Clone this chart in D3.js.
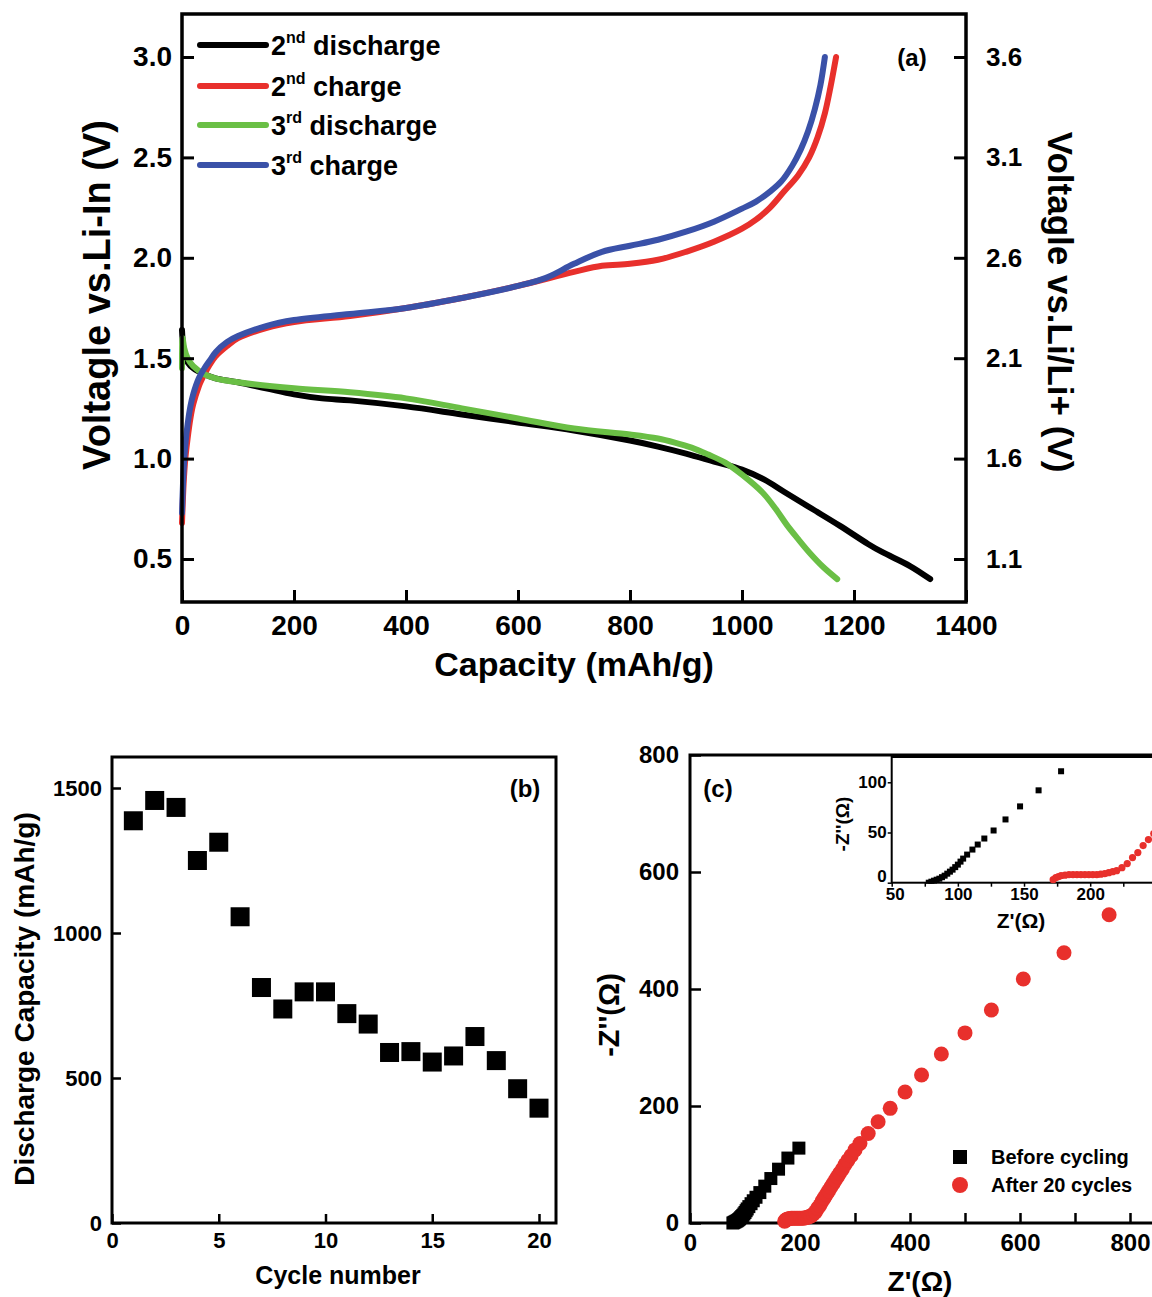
<!DOCTYPE html>
<html lang="en">
<head>
    <meta charset="UTF-8">
    <script src="https://d3js.org/d3.v7.min.js" charset="utf-8"></script>
    <title>Battery cycling figure</title>
    <style>
        body { margin: 0; background: #fff; }
        svg { display: block; font-family: "Liberation Sans", Arial, sans-serif; }
        .axis path { display: none; }
        .axis line { stroke: #000; }
        .axis text { fill: #000; font-weight: bold; }
    </style>
</head>
<body>
<div id="chart"></div>
<script>
    // (a) charge / discharge curves, capacity (mAh/g) vs voltage (V vs Li-In)
    const dis2Cap = [0, 2, 5, 10, 20, 40, 60, 100, 150, 200, 250, 300, 400, 500, 600, 700, 800, 850, 900, 950, 1000, 1040, 1075, 1125, 1175, 1225, 1250, 1300, 1336];
    const dis2Volt = [1.64, 1.56, 1.51, 1.48, 1.45, 1.42, 1.40, 1.38, 1.35, 1.32, 1.30, 1.29, 1.26, 1.22, 1.18, 1.14, 1.09, 1.06, 1.025, 0.985, 0.945, 0.895, 0.835, 0.75, 0.665, 0.575, 0.535, 0.465, 0.40];
    const chg2Cap = [0, 3, 6, 10, 15, 20, 30, 40, 50, 60, 80, 100, 150, 200, 300, 400, 500, 600, 700, 750, 800, 850, 900, 950, 1000, 1025, 1050, 1075, 1100, 1120, 1135, 1148, 1158, 1168];
    const chg2Volt = [0.68, 0.88, 1.0, 1.1, 1.2, 1.27, 1.36, 1.42, 1.47, 1.51, 1.56, 1.60, 1.65, 1.68, 1.71, 1.75, 1.80, 1.86, 1.93, 1.96, 1.97, 1.99, 2.03, 2.08, 2.145, 2.19, 2.25, 2.33, 2.41, 2.50, 2.60, 2.72, 2.85, 3.0];
    const dis3Cap = [0, 1, 4, 10, 20, 40, 60, 100, 200, 300, 400, 500, 600, 700, 800, 850, 880, 910, 940, 970, 1000, 1037, 1060, 1080, 1100, 1121, 1145, 1170];
    const dis3Volt = [1.45, 1.60, 1.55, 1.50, 1.46, 1.42, 1.40, 1.38, 1.35, 1.33, 1.30, 1.25, 1.20, 1.15, 1.12, 1.10, 1.08, 1.055, 1.02, 0.98, 0.92, 0.83, 0.75, 0.67, 0.60, 0.53, 0.46, 0.40];
    const chg3Cap = [0, 3, 6, 10, 15, 20, 30, 40, 50, 60, 80, 100, 150, 200, 300, 400, 500, 600, 650, 700, 750, 800, 850, 900, 950, 1000, 1025, 1050, 1070, 1090, 1105, 1118, 1130, 1140, 1148];
    const chg3Volt = [0.73, 0.95, 1.07, 1.17, 1.26, 1.32, 1.40, 1.45, 1.49, 1.53, 1.58, 1.61, 1.66, 1.69, 1.72, 1.75, 1.80, 1.86, 1.90, 1.97, 2.03, 2.06, 2.09, 2.13, 2.18, 2.245, 2.28, 2.33, 2.38, 2.46, 2.54, 2.63, 2.74, 2.86, 3.0];
    const curveNames = ["2nd discharge", "2nd charge", "3rd discharge", "3rd charge"];
    const curveColors = ["#000000", "#e8302c", "#6abf45", "#3a51a8"];
    const capTicks = [0, 200, 400, 600, 800, 1000, 1200, 1400];
    const voltTicks = [0.5, 1.0, 1.5, 2.0, 2.5, 3.0];
    const voltRightTicks = [1.1, 1.6, 2.1, 2.6, 3.1, 3.6];

    // (b) discharge capacity per cycle
    const cycles = [1, 2, 3, 4, 5, 6, 7, 8, 9, 10, 11, 12, 13, 14, 15, 16, 17, 18, 19, 20];
    const dischargeCap = [1387, 1457, 1433, 1250, 1313, 1056, 812, 738, 797, 797, 722, 686, 588, 591, 555, 576, 643, 560, 463, 396];
    const cycleTicks = [0, 5, 10, 15, 20];
    const dcapTicks = [0, 500, 1000, 1500];

    // (c) impedance spectra
    const beforeRe = [78, 80, 82, 84, 86, 88, 90, 92, 94, 96, 98, 100, 102, 104, 107, 111, 115, 120, 127, 136, 147, 161, 178, 198];
    const beforeIm = [0, 1, 2, 3, 4, 5.5, 7, 9, 11, 13, 15.5, 18, 21, 24, 28, 33, 38, 44, 52, 63, 76, 92, 111, 128];
    const afterRe = [172, 174, 176, 178, 181, 184, 187, 190, 193, 196, 199, 202, 205, 208, 211, 214, 217, 220, 224, 228, 232, 236, 240, 244, 248, 252, 256, 260, 264, 268, 272, 277, 282, 287, 293, 300, 309, 324, 342, 364, 391, 421, 457, 500, 548, 606, 680, 762];
    const afterIm = [3, 5, 6, 7, 7.5, 8, 8, 8, 8, 8, 8, 8, 8, 8.5, 9, 10, 11, 12, 15, 19, 25, 30, 37, 43, 49, 55, 61, 67, 73, 79, 85, 92, 100, 107, 115, 125, 136, 153, 173, 196, 224, 253, 289, 325, 364, 417, 462, 527];
    const zTicks = [0, 100, 200, 300, 400, 500, 600, 700, 800];
    const zImTicks = [0, 200, 400, 600, 800];
    const insetXTicks = [50, 75, 100, 125, 150, 175, 200, 225, 250];
    const insetYTicks = [0, 50, 100];
    const impedanceNames = ["Before cycling", "After 20 cycles"];

    const svgWidth = 1152;
    const svgHeight = 1297;

    const svg = d3.select("#chart").append("svg")
        .attr("width", svgWidth)
        .attr("height", svgHeight);
    svg.append("rect").attr("width", svgWidth).attr("height", svgHeight).attr("fill", "#fff");

    const styleAxis = (g, size) => {
        g.attr("class", "axis");
        g.selectAll("text").style("font-size", size + "px");
    };

    // ---------- panel (a) ----------
    const drawPanelA = () => {
        const left = 182, right = 966, top = 14, bottom = 602;
        const x = d3.scaleLinear().domain([0, 1400]).range([left, right]);
        const y = d3.scaleLinear().domain([0.5, 3.0]).range([559, 57]);
        const yR = d3.scaleLinear().domain([1.1, 3.6]).range([559, 57]);

        const g = svg.append("g");

        const series = [
            [dis2Cap, dis2Volt],
            [chg2Cap, chg2Volt],
            [dis3Cap, dis3Volt],
            [chg3Cap, chg3Volt]
        ];
        const line = d3.line()
            .x(d => x(d[0]))
            .y(d => y(d[1]))
            .curve(d3.curveCatmullRom.alpha(0.5));

        series.forEach((s, i) => {
            const pts = s[0].map((c, j) => [c, s[1][j]]);
            g.append("path")
                .attr("d", line(pts))
                .attr("fill", "none")
                .attr("stroke", curveColors[i])
                .attr("stroke-width", 6)
                .attr("stroke-linecap", "round")
                .attr("stroke-linejoin", "round");
        });

        g.append("rect")
            .attr("x", left).attr("y", top)
            .attr("width", right - left).attr("height", bottom - top)
            .attr("fill", "none").attr("stroke", "#000").attr("stroke-width", 3.5);

        const xAxis = g.append("g")
            .attr("transform", `translate(0,${bottom})`)
            .call(d3.axisBottom(x).tickValues(capTicks).tickFormat(d3.format("d"))
                .tickSize(-12).tickSizeOuter(0).tickPadding(13));
        styleAxis(xAxis, 28);
        xAxis.selectAll("line").attr("stroke-width", 3);

        const yAxis = g.append("g")
            .attr("transform", `translate(${left},0)`)
            .call(d3.axisLeft(y).tickValues(voltTicks).tickFormat(d3.format(".1f")).tickSize(-12).tickSizeOuter(0).tickPadding(10));
        styleAxis(yAxis, 28);
        yAxis.selectAll("line").attr("stroke-width", 3);

        const yAxisR = g.append("g")
            .attr("transform", `translate(${right},0)`)
            .call(d3.axisRight(yR).tickValues(voltRightTicks).tickFormat(d3.format(".1f")).tickSize(-12).tickSizeOuter(0).tickPadding(20));
        styleAxis(yAxisR, 26);
        yAxisR.selectAll("line").attr("stroke-width", 3);

        g.append("text")
            .attr("x", (left + right) / 2). attr("y", 676)
            .attr("text-anchor", "middle")
            .style("font-size", "34px").style("font-weight", "bold")
            .text("Capacity (mAh/g)");

        g.append("text")
            .attr("transform", `translate(110,295) rotate(-90)`)
            .attr("text-anchor", "middle")
            .style("font-size", "38px").style("font-weight", "bold")
            .text("Voltagle vs.Li-In (V)");

        g.append("text")
            .attr("transform", `translate(1048,302) rotate(90)`)
            .attr("text-anchor", "middle")
            .style("font-size", "35px").style("font-weight", "bold")
            .text("Voltagle vs.Li/Li+ (V)");

        g.append("text")
            .attr("x", 912).attr("y", 66)
            .attr("text-anchor", "middle")
            .style("font-size", "24px").style("font-weight", "bold")
            .text("(a)");

        // legend
        const legendY = [45, 86, 125, 165];
        curveNames.forEach((name, i) => {
            const ly = legendY[i];
            g.append("line")
                .attr("x1", 200).attr("x2", 266)
                .attr("y1", ly).attr("y2", ly)
                .attr("stroke", curveColors[i])
                .attr("stroke-width", 6)
                .attr("stroke-linecap", "round");
            const parts = name.match(/^(\d)(\w+) (.+)$/);
            const t = g.append("text")
                .attr("x", 271).attr("y", ly + 10)
                .style("font-size", "27px").style("font-weight", "bold");
            t.append("tspan").text(parts[1]);
            t.append("tspan").attr("dy", -12).style("font-size", "16px").text(parts[2]);
            t.append("tspan").attr("dy", 12).text(" " + parts[3]);
        });
    };

    // ---------- panel (b) ----------
    const drawPanelB = () => {
        const left = 112, right = 556, top = 757, bottom = 1223;
        const x = d3.scaleLinear().domain([0, 20]).range([left, 539]);
        const y = d3.scaleLinear().domain([0, 1500]).range([bottom, 788]);

        const g = svg.append("g");

        g.append("rect")
            .attr("x", left).attr("y", top)
            .attr("width", right - left).attr("height", bottom - top)
            .attr("fill", "none").attr("stroke", "#000").attr("stroke-width", 3);

        const xAxis = g.append("g")
            .attr("transform", `translate(0,${bottom})`)
            .call(d3.axisBottom(x).tickValues(cycleTicks).tickFormat(d3.format("d"))
                .tickSize(-9).tickSizeOuter(0).tickPadding(9));
        styleAxis(xAxis, 22);
        xAxis.selectAll("line").attr("stroke-width", 2.5);

        const yAxis = g.append("g")
            .attr("transform", `translate(${left},0)`)
            .call(d3.axisLeft(y).tickValues(dcapTicks).tickFormat(d3.format("d"))
                .tickSize(-9).tickSizeOuter(0).tickPadding(10));
        styleAxis(yAxis, 22);
        yAxis.selectAll("line").attr("stroke-width", 2.5);

        const sq = 19;
        g.selectAll("rect.pt")
            .data(cycles)
            .enter()
            .append("rect")
            .attr("class", "pt")
            .attr("x", d => x(d) - sq / 2)
            .attr("y", (d, i) => y(dischargeCap[i]) - sq / 2)
            .attr("width", sq).attr("height", sq)
            .attr("fill", "#000");

        g.append("text")
            .attr("x", 338).attr("y", 1284)
            .attr("text-anchor", "middle")
            .style("font-size", "25px").style("font-weight", "bold")
            .text("Cycle number");

        g.append("text")
            .attr("transform", `translate(34,999) rotate(-90)`)
            .attr("text-anchor", "middle")
            .style("font-size", "28px").style("font-weight", "bold")
            .text("Discharge Capacity (mAh/g)");

        g.append("text")
            .attr("x", 525).attr("y", 797)
            .attr("text-anchor", "middle")
            .style("font-size", "24px").style("font-weight", "bold")
            .text("(b)");
    };

    // ---------- panel (c) ----------
    const drawPanelC = () => {
        const left = 690, top = 755, bottom = 1223, right = 1170;
        const x = d3.scaleLinear().domain([0, 800]).range([left, 1130]);
        const y = d3.scaleLinear().domain([0, 800]).range([bottom, top]);

        const g = svg.append("g");

        g.append("path")
            .attr("d", `M${right},${top}H${left}V${bottom}H${right}`)
            .attr("fill", "none").attr("stroke", "#000").attr("stroke-width", 3);

        const xAxis = g.append("g")
            .attr("transform", `translate(0,${bottom})`)
            .call(d3.axisBottom(x).tickValues(zTicks).tickFormat(d => d % 200 === 0 ? d : "")
                .tickSize(-10).tickSizeOuter(0).tickPadding(11));
        styleAxis(xAxis, 24);
        xAxis.selectAll("line").attr("stroke-width", 2.5);

        const yAxis = g.append("g")
            .attr("transform", `translate(${left},0)`)
            .call(d3.axisLeft(y).tickValues(zImTicks).tickSize(-11).tickSizeOuter(0).tickPadding(11));
        styleAxis(yAxis, 24);
        yAxis.selectAll("line").attr("stroke-width", 2.5);

        g.selectAll("circle.after")
            .data(afterRe)
            .enter()
            .append("circle")
            .attr("class", "after")
            .attr("cx", d => x(d))
            .attr("cy", (d, i) => y(afterIm[i]))
            .attr("r", 7.5)
            .attr("fill", "#e8302c");

        const sq = 13;
        g.selectAll("rect.before")
            .data(beforeRe)
            .enter()
            .append("rect")
            .attr("class", "before")
            .attr("x", d => x(d) - sq / 2)
            .attr("y", (d, i) => y(beforeIm[i]) - sq / 2)
            .attr("width", sq).attr("height", sq)
            .attr("fill", "#000");

        g.append("text")
            .attr("x", 920).attr("y", 1291)
            .attr("text-anchor", "middle")
            .style("font-size", "28px").style("font-weight", "bold")
            .text("Z'(Ω)");

        g.append("text")
            .attr("transform", `translate(619,1015) rotate(-90)`)
            .attr("text-anchor", "middle")
            .style("font-size", "29px").style("font-weight", "bold")
            .text("-Z''(Ω)");

        g.append("text")
            .attr("x", 718).attr("y", 797)
            .attr("text-anchor", "middle")
            .style("font-size", "24px").style("font-weight", "bold")
            .text("(c)");

        // legend
        g.append("rect")
            .attr("x", 953).attr("y", 1150).attr("width", 14).attr("height", 14)
            .attr("fill", "#000");
        g.append("circle")
            .attr("cx", 960).attr("cy", 1185).attr("r", 8)
            .attr("fill", "#e8302c");
        impedanceNames.forEach((name, i) => {
            g.append("text")
                .attr("x", 991).attr("y", 1164 + i * 28)
                .style("font-size", "20px").style("font-weight", "bold")
                .text(name);
        });

        // inset
        const iLeft = 891.7, iTop = 757, iBottom = 882.7, iRight = 1170;
        const xi = d3.scaleLinear().domain([50, 250]).range([iLeft, iLeft + 200 * 1.3233]);
        const yi = d3.scaleLinear().domain([0, 100]).range([iBottom, 782.3]);

        const ig = svg.append("g");
        ig.append("rect")
            .attr("x", iLeft).attr("y", iTop)
            .attr("width", iRight - iLeft).attr("height", iBottom - iTop)
            .attr("fill", "#fff").attr("stroke", "#000").attr("stroke-width", 2);

        svg.append("clipPath").attr("id", "insetClip")
            .append("rect")
            .attr("x", iLeft).attr("y", iTop)
            .attr("width", iRight - iLeft).attr("height", iBottom - iTop + 1);

        const data = ig.append("g").attr("clip-path", "url(#insetClip)");
        data.selectAll("circle")
            .data(afterRe)
            .enter()
            .append("circle")
            .attr("cx", d => xi(d))
            .attr("cy", (d, i) => yi(afterIm[i]))
            .attr("r", 3.6)
            .attr("fill", "#e8302c");
        data.selectAll("rect")
            .data(beforeRe)
            .enter()
            .append("rect")
            .attr("x", d => xi(d) - 3)
            .attr("y", (d, i) => yi(beforeIm[i]) - 3)
            .attr("width", 6).attr("height", 6)
            .attr("fill", "#000");

        const ixAxis = ig.append("g")
            .attr("transform", `translate(0,${iBottom})`)
            .call(d3.axisBottom(xi).tickValues(insetXTicks).tickFormat(d => d % 50 === 0 && d < 250 ? d : "")
                .tickSize(4).tickSizeOuter(0).tickPadding(1));
        styleAxis(ixAxis, 17);
        ixAxis.selectAll("line").attr("stroke-width", 1.5);
        ixAxis.selectAll("text").filter(d => d === 50).attr("dx", 3);

        const iyAxis = ig.append("g")
            .attr("transform", `translate(${iLeft},0)`)
            .call(d3.axisLeft(yi).tickValues(insetYTicks).tickSize(4).tickSizeOuter(0).tickPadding(1));
        styleAxis(iyAxis, 17);
        iyAxis.selectAll("line").attr("stroke-width", 1.5);
        iyAxis.selectAll("text").filter(d => d === 0).attr("dy", "-0.05em");

        ig.append("text")
            .attr("x", 1021).attr("y", 928)
            .attr("text-anchor", "middle")
            .style("font-size", "21px").style("font-weight", "bold")
            .text("Z'(Ω)");

        ig.append("text")
            .attr("transform", `translate(849,824) rotate(-90)`)
            .attr("text-anchor", "middle")
            .style("font-size", "19px").style("font-weight", "bold")
            .text("-Z''(Ω)");
    };

    drawPanelA();
    drawPanelB();
    drawPanelC();
</script>
</body>
</html>
